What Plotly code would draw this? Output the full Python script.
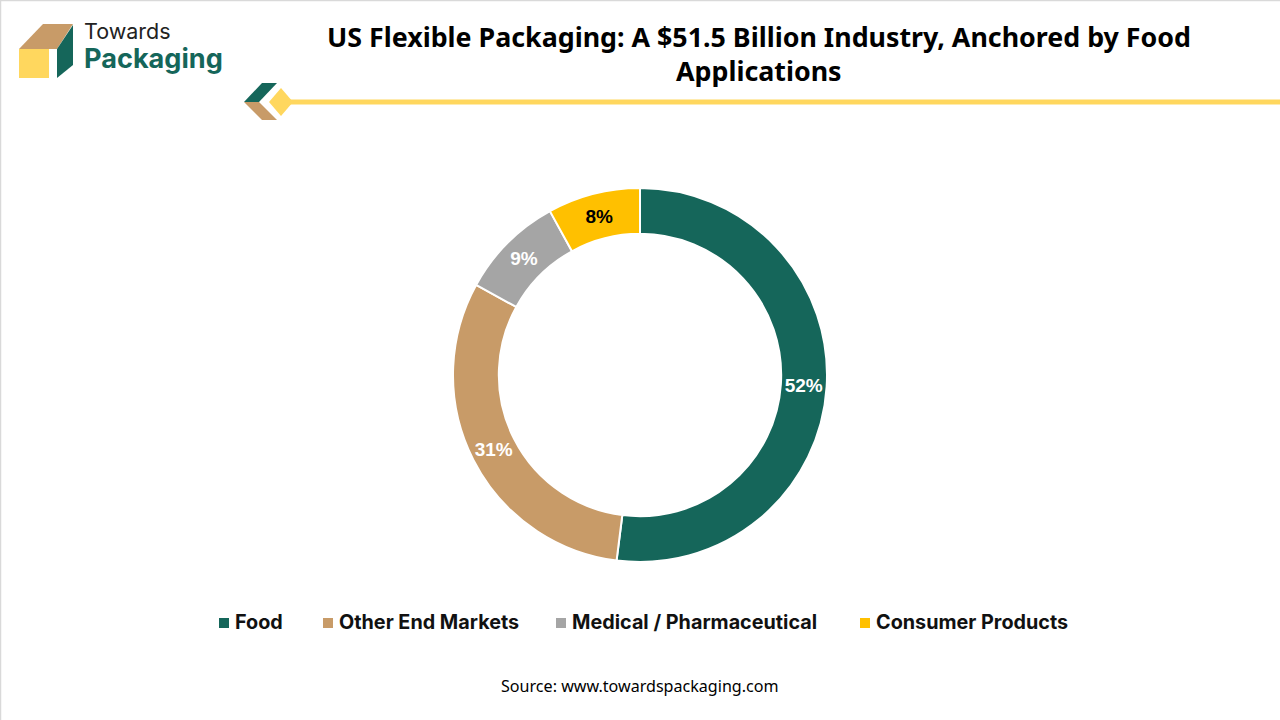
import plotly.graph_objects as go

W = 1280
H = 720

labels = ['Food', 'Other End Markets', 'Medical / Pharmaceutical', 'Consumer Products']
values = [52, 31, 9, 8]
colors = ['#15665A', '#C89B68', '#A5A5A5', '#FFC000']
text_colors = ['white', 'white', 'white', 'black']
legend_x = [218, 322, 555, 859]

DARK_GREEN = '#15665A'
TAN = '#C89B68'
YELLOW = '#FFD75E'


def px(x):
    return x / W


def py(y):
    return 1 - y / H


def poly(points, color):
    # pixel points to a closed svg path in paper coordinates
    path = 'M ' + ' L '.join(f'{px(x)} {py(y)}' for x, y in points) + ' Z'
    return dict(type='path', xref='paper', yref='paper', path=path,
                fillcolor=color, line=dict(width=0), layer='above')


fig = go.Figure()

fig.add_trace(go.Pie(labels=labels, values=values, hole=0.755, sort=False,
                     direction='clockwise', rotation=0,
                     domain=dict(x=[px(453), px(827)], y=[py(562), py(188)]),
                     marker=dict(colors=colors, line=dict(color='white', width=2)),
                     texttemplate='<b>%{value}%</b>', textposition='inside',
                     insidetextorientation='horizontal',
                     textfont=dict(family='Liberation Sans', size=19, color=text_colors),
                     hoverinfo='label+value'))

shapes = [
    # logo box
    poly([(19, 49), (43, 24), (73, 24), (57, 49)], TAN),
    poly([(57, 49), (73, 25), (73, 65), (57, 78)], DARK_GREEN),
    poly([(19, 49), (49, 49), (49, 78), (19, 78)], YELLOW),
    # header rule and its arrow mark
    poly([(244, 102), (262, 83), (277, 83), (259, 102)], DARK_GREEN),
    poly([(244, 102), (259, 102), (277, 120), (262, 120)], TAN),
    poly([(269, 102), (281, 88), (293, 102), (281, 116)], YELLOW),
    dict(type='line', xref='paper', yref='paper', x0=px(290), x1=1, y0=py(102), y1=py(102),
         line=dict(color=YELLOW, width=5), layer='above'),
    # thin frame on the top and left edges
    dict(type='line', xref='paper', yref='paper', x0=0, x1=1, y0=py(0.5), y1=py(0.5),
         line=dict(color='#D9D9D9', width=1.5)),
    dict(type='line', xref='paper', yref='paper', x0=px(0.5), x1=px(0.5), y0=0, y1=1,
         line=dict(color='#D9D9D9', width=1.5)),
]


def note(text, x, y, size, color='black', family='Noto Sans', anchor='center'):
    fig.add_annotation(text=text, xref='paper', yref='paper', x=px(x), y=py(y),
                       xanchor=anchor, yanchor='middle', showarrow=False,
                       font=dict(family=family, size=size, color=color))


note('<b>US Flexible Packaging: A $51.5 Billion Industry, Anchored by Food</b>', 759, 36, 26.8)
note('<b>Applications</b>', 759, 71, 26.8)
note('Towards', 82, 31, 21.5, '#222222', 'Inter', 'left')
note('<b>Packaging</b>', 82, 58, 27.1, DARK_GREEN, 'Inter', 'left')
note('Source: www.towardspackaging.com', 640, 686, 16.1)

# legend squares and names sit at uneven gaps, so they are placed one by one
for name, color, x in zip(labels, colors, legend_x):
    shapes.append(dict(type='rect', xref='paper', yref='paper', x0=px(x + 1), x1=px(x + 11),
                       y0=py(628), y1=py(618), fillcolor=color, line=dict(width=0)))
    note(f'<b>{name}</b>', x + 15, 622, 19.8, '#111111', 'Inter', 'left')

fig.update_layout(width=W, height=H, margin=dict(l=0, r=0, t=0, b=0),
                  paper_bgcolor='white', shapes=shapes, showlegend=False)

fig.write_html('out.html', config=dict(displayModeBar=False),
               post_script="document.body.style.margin = '0';")
